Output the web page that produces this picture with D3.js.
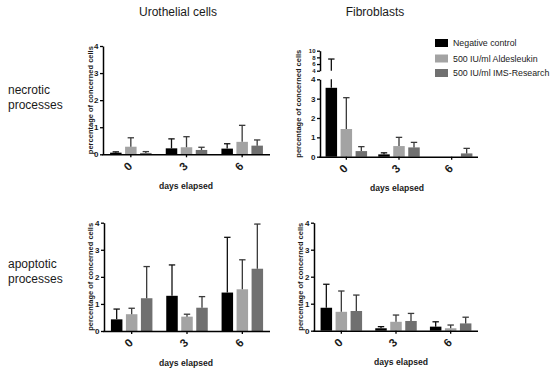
<!DOCTYPE html>
<html><head><meta charset="utf-8">
<script src="https://cdn.jsdelivr.net/npm/d3@7"></script>
<style>
body{margin:0;background:#fff;}
svg{display:block;font-family:"Liberation Sans",Arial,sans-serif;}
</style></head>
<body><svg id="c" width="550" height="378"></svg>
<script>
// ---- data ----
const days = ["0", "3", "6"];
const seriesNames = ["Negative control", "500 IU/ml Aldesleukin", "500 IU/ml IMS-Research"];
const seriesColors = ["#000000", "#a3a3a3", "#707070"];
const yTicks = [0, 1, 2, 3, 4];
const yTicksUpper = [4, 6, 8, 10];

// means [series][day], sd [series][day]
const uroNecMean = [[0.06, 0.22, 0.21], [0.28, 0.26, 0.46], [0.05, 0.16, 0.32]];
const uroNecSd   = [[0.03, 0.35, 0.18], [0.33, 0.39, 0.61], [0.05, 0.10, 0.21]];
const fibNecMean = [[3.56, 0.12, 0], [1.43, 0.55, 0], [0.29, 0.48, 0.17]];
const fibNecSd   = [[3.94, 0.08, 0], [1.62, 0.45, 0], [0.23, 0.26, 0.26]];
const uroApoMean = [[0.43, 1.30, 1.42], [0.62, 0.53, 1.54], [1.21, 0.86, 2.30]];
const uroApoSd   = [[0.38, 1.14, 2.04], [0.22, 0.09, 1.09], [1.17, 0.41, 1.65]];
const fibApoMean = [[0.85, 0.09, 0.15], [0.70, 0.33, 0.09], [0.73, 0.36, 0.27]];
const fibApoSd   = [[0.87, 0.06, 0.18], [0.77, 0.25, 0.12], [0.59, 0.28, 0.23]];

const colTitles = ["Urothelial cells", "Fibroblasts"];
const rowTitles = [["necrotic", "processes"], ["apoptotic", "processes"]];

const svg = d3.select("#c");
const TXT = "#1a1a1a";

function panel(opts) {
  const {x0, x1, yBase, yTop, mean, sd, broken} = opts;
  const g = svg.append("g");
  const x = d3.scaleBand().domain(days).range([x0, x1]);
  let yLow, yUp = null, y;
  if (broken) {
    yLow = d3.scaleLinear().domain([0, 4]).range([yBase, broken.lowTop]);
    yUp = d3.scaleLinear().domain([4, 10]).range([broken.upBottom, yTop]);
    y = v => v <= 4 ? yLow(v) : yUp(v);
  } else {
    yLow = d3.scaleLinear().domain([0, 4]).range([yBase, yTop]);
    y = yLow;
  }
  const barW = 11.5, step = 15;
  for (let s = 0; s < 3; s++) {
    days.forEach((d, i) => {
      const cx = x(d) + x.bandwidth() / 2 + (s - 1) * step;
      const m = mean[s][i], e = sd[s][i];
      if (m > 0) {
        g.append("rect").attr("x", cx - barW / 2).attr("y", y(m))
          .attr("width", barW).attr("height", yBase - y(m)).attr("fill", seriesColors[s]);
      }
      if (e > 0) {
        const top = m + e;
        const ec = s === 0 ? "#111" : "#3a3a3a";
        if (broken && top > 4) {
          g.append("line").attr("x1", cx).attr("x2", cx).attr("y1", y(m)).attr("y2", yLow(4))
            .attr("stroke", ec).attr("stroke-width", 1.3);
          g.append("line").attr("x1", cx).attr("x2", cx).attr("y1", yUp(4)).attr("y2", yUp(top))
            .attr("stroke", ec).attr("stroke-width", 1.3);
        } else {
          g.append("line").attr("x1", cx).attr("x2", cx).attr("y1", y(m)).attr("y2", y(top))
            .attr("stroke", ec).attr("stroke-width", 1.3);
        }
        g.append("line").attr("x1", cx - 3.2).attr("x2", cx + 3.2).attr("y1", y(top)).attr("y2", y(top))
          .attr("stroke", ec).attr("stroke-width", 1.3);
      }
    });
  }
  const styleAxis = (sel, fs) => {
    sel.select(".domain").attr("stroke", "#000").attr("stroke-width", 1.5);
    sel.selectAll(".tick line").attr("stroke", "#000").attr("stroke-width", 1.3);
    sel.selectAll(".tick text").attr("fill", TXT).attr("font-weight", "bold")
      .attr("font-size", fs || "8px").attr("font-family", '"Liberation Sans",Arial,sans-serif');
  };
  const ya = g.append("g").attr("transform", `translate(${x0},0)`)
    .call(d3.axisLeft(yLow).tickValues(yTicks).tickFormat(d3.format("d")).tickSize(3).tickSizeOuter(0).tickPadding(1.5));
  styleAxis(ya);
  if (yUp) {
    const yu = g.append("g").attr("transform", `translate(${x0},0)`)
      .call(d3.axisLeft(yUp).tickValues(yTicksUpper).tickFormat(d3.format("d")).tickSize(3).tickSizeOuter(0).tickPadding(1.5));
    styleAxis(yu, "6px");
  }
  const xa = g.append("g").attr("transform", `translate(0,${yBase})`)
    .call(d3.axisBottom(x).tickSize(3).tickSizeOuter(0));
  styleAxis(xa);
  xa.select(".domain").attr("d", `M${x0 - 0.75},0.5H${x1}`);
  xa.selectAll(".tick text").attr("font-size", "11.5px")
    .attr("transform", "translate(-3,12) rotate(-45)").attr("text-anchor", "middle").attr("dy", "0.35em").attr("y", 0);
  const yMid = (yBase + yTop) / 2;
  g.append("text").attr("transform", `translate(${opts.labelX},${yMid}) rotate(-90)`)
    .attr("text-anchor", "middle").attr("dy", "0.35em").attr("font-size", "7.5px").attr("font-weight", "bold")
    .attr("fill", TXT).text("percentage of concerned cells");
  g.append("text").attr("x", opts.titleX).attr("y", yBase + 34.5).attr("text-anchor", "middle")
    .attr("font-size", "8.6px").attr("font-weight", "bold").attr("fill", TXT).text("days elapsed");
}

panel({x0: 103, x1: 270, yBase: 154.3, yTop: 46, mean: uroNecMean, sd: uroNecSd, labelX: 90.7, titleX: 186});
panel({x0: 320, x1: 478, yBase: 156.7, yTop: 50.7, mean: fibNecMean, sd: fibNecSd, labelX: 298, titleX: 397,
       broken: {lowTop: 79.3, upBottom: 70.7}});
panel({x0: 104, x1: 270, yBase: 331, yTop: 222.7, mean: uroApoMean, sd: uroApoSd, labelX: 90.7, titleX: 186});
panel({x0: 314, x1: 478, yBase: 330.7, yTop: 222.7, mean: fibApoMean, sd: fibApoSd, labelX: 300, titleX: 401});

[178, 375].forEach((cx, i) => {
  svg.append("text").attr("x", cx).attr("y", 16).attr("text-anchor", "middle")
    .attr("font-size", "12px").attr("fill", TXT).text(colTitles[i]);
});
[[94, 108.5], [268, 283]].forEach((ys, r) => {
  rowTitles[r].forEach((t, k) => {
    svg.append("text").attr("x", 8).attr("y", ys[k]).attr("font-size", "12px").attr("fill", TXT).text(t);
  });
});
const legY = [39, 54.5, 69];
seriesNames.forEach((n, i) => {
  svg.append("rect").attr("x", 435).attr("y", legY[i]).attr("width", 13).attr("height", 8).attr("fill", seriesColors[i]);
  svg.append("text").attr("x", 453).attr("y", legY[i] + 4).attr("dy", "0.35em")
    .attr("font-size", "8.8px").attr("fill", TXT).text(n);
});
</script></body></html>
